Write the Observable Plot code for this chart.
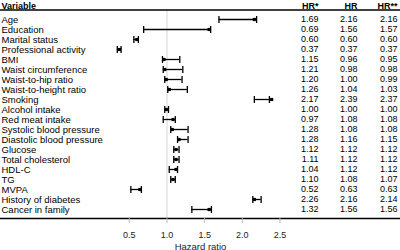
<!DOCTYPE html>
<html><head><meta charset="utf-8">
<script src="https://cdn.jsdelivr.net/npm/d3@7"></script>
<script src="https://cdn.jsdelivr.net/npm/@observablehq/plot@0.6"></script>
<style>html,body{margin:0;padding:0;background:#fff}</style>
</head><body><div id="chart"></div>
<script>
const variables = ["Age","Education","Marital status","Professional activity","BMI","Waist circumference","Waist-to-hip ratio","Waist-to-height ratio","Smoking","Alcohol intake","Red meat intake","Systolic blood pressure","Diastolic blood pressure","Glucose","Total cholesterol","HDL-C","TG","MVPA","History of diabetes","Cancer in family"];
const hrStar  = [1.69,0.69,0.60,0.37,1.15,1.21,1.20,1.26,2.17,1.00,0.97,1.28,1.28,1.12,1.11,1.04,1.10,0.52,2.26,1.32];
const hrPlain = [2.16,1.56,0.60,0.37,0.96,0.98,1.00,1.04,2.39,1.00,1.08,1.08,1.16,1.12,1.12,1.12,1.08,0.63,2.16,1.56];
const hrStar2 = [2.16,1.57,0.60,0.37,0.95,0.98,0.99,1.03,2.37,1.00,1.08,1.08,1.15,1.12,1.12,1.12,1.07,0.63,2.14,1.56];
// interval ends and marker
const ciLow    = [1.69,0.69,0.56,0.34,0.94,0.95,0.97,1.01,2.16,0.97,0.95,1.05,1.14,1.09,1.09,1.03,1.05,0.52,2.14,1.33];
const ciHigh   = [2.19,1.58,0.62,0.39,1.17,1.21,1.20,1.27,2.36,1.02,1.11,1.28,1.28,1.16,1.16,1.14,1.11,0.66,2.25,1.59];
const estimate = [2.16,1.56,0.60,0.37,0.96,0.97,0.99,1.03,2.39,0.99,1.08,1.07,1.16,1.12,1.12,1.12,1.08,0.64,2.16,1.56];
const xTicks = [0.5, 1, 1.5, 2, 2.5];
const headers = ["Variable", "HR*", "HR", "HR**"];
const xLabel = "Hazard ratio";

const rows = variables.map((name, i) => ({name, a: hrStar[i], b: hrPlain[i], c: hrStar2[i], lo: ciLow[i], hi: ciHigh[i], est: estimate[i]}));
const cap = {draw(ctx) { ctx.moveTo(0, -3.5); ctx.lineTo(0, 3.5); }};
const fmt = d3.format(".2f");
const cols = [{key: "a", dx: -82}, {key: "b", dx: -43}, {key: "c", dx: -3}];

const chart = Plot.plot({
  width: 400, height: 250,
  marginLeft: 0, marginRight: 0, marginTop: 9.5, marginBottom: 32,
  style: {fontFamily: "'Liberation Sans', Arial, sans-serif", fontSize: "9px", background: "#fff", color: "#000"},
  x: {domain: [-91.2 / 75.3, (400 - 91.2) / 75.3]},
  y: {type: "point", domain: variables, padding: 0.5, axis: null},
  marks: [
    Plot.ruleX([1], {stroke: "#d6d6d6"}),
    Plot.frame({anchor: "top", strokeWidth: 1.3}),
    Plot.frame({anchor: "bottom", strokeWidth: 1.3}),
    Plot.axisX({ticks: xTicks, tickSize: 5, tickPadding: 8, stroke: "#b8b8b8", fill: "#222", fontSize: 9, label: null}),
    Plot.text([xLabel], {frameAnchor: "bottom", dy: 31, lineAnchor: "bottom", fontSize: 9.5, fill: "#222"}),
    Plot.ruleY(rows, {y: "name", x1: "lo", x2: "hi", stroke: "#000", strokeWidth: 1.3}),
    Plot.dot(rows, {x: "lo", y: "name", symbol: cap, fill: "none", stroke: "#000", strokeWidth: 1.3}),
    Plot.dot(rows, {x: "hi", y: "name", symbol: cap, fill: "none", stroke: "#000", strokeWidth: 1.3}),
    Plot.dot(rows, {x: "est", y: "name", symbol: "square", r: 1.8, fill: "#000", stroke: "none"}),
    Plot.text(rows, {y: "name", text: "name", frameAnchor: "left", dx: 1, textAnchor: "start", fontSize: 9.5, fill: "#000"}),
    ...cols.map(c => Plot.text(rows, {y: "name", text: d => fmt(d[c.key]), frameAnchor: "right", dx: c.dx, textAnchor: "end", fontSize: 9, fill: "#000"})),
    Plot.text([headers[0]], {frameAnchor: "top-left", dx: 1, dy: -1.3, lineAnchor: "bottom", textAnchor: "start", fontWeight: "bold", fontSize: 9, fill: "#000"}),
    ...cols.map((c, i) => Plot.text([headers[i + 1]], {frameAnchor: "top-right", dx: c.dx, dy: -1.3, lineAnchor: "bottom", textAnchor: "end", fontWeight: "bold", fontSize: 9, fill: "#000"}))
  ]
});
document.getElementById("chart").append(chart);
</script>
</body></html>
